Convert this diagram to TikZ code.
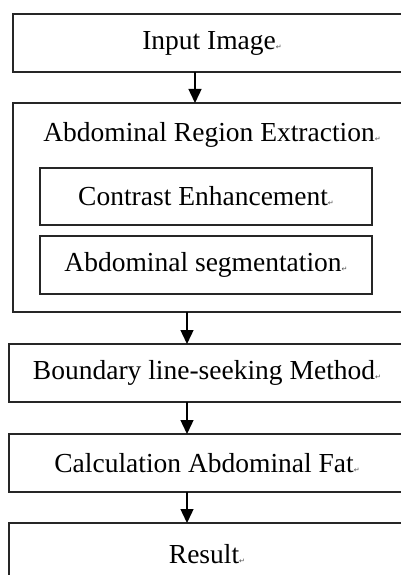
\documentclass[tikz,border=0pt]{standalone}
\usepackage{fontspec}
\setmainfont{Liberation Serif}
\newfontfamily\markfont{DejaVu Sans}
\usetikzlibrary{arrows.meta}
\newcommand{\pmark}{{\markfont\fontsize{7}{7}\selectfont\textcolor{black!70}{↵}}}
\begin{document}
\begin{tikzpicture}[x=1pt,y=-1pt,
  stepbox/.style={draw=black!85,line width=1.5pt,inner sep=0pt,outer sep=0pt,anchor=north west,font=\fontsize{27.5}{33}\selectfont},
  arr/.style={-{Triangle[length=14pt,width=13pt]},line width=1.4pt}]
\useasboundingbox (0,0) rectangle (401,575);
\clip (0,0) rectangle (401,575);
% main steps
\node[stepbox,minimum width=398pt,minimum height=58pt] (input) at (13,14) {Input Image\pmark};
\node[stepbox,minimum width=398pt,minimum height=209pt] (extract) at (13,103) {};
\node[font=\fontsize{27.5}{33}\selectfont,anchor=base] (extractlbl) at (212,142) {Abdominal Region Extraction\pmark};
\node[stepbox,minimum width=332pt,minimum height=57pt] (contrast) at (40,168) {Contrast Enhancement\pmark};
\node[stepbox,minimum width=332pt,minimum height=58pt] (segment) at (40,236) {Abdominal segmentation\pmark};
\node[stepbox,minimum width=396pt,minimum height=58pt] (boundary) at (9,344) {Boundary line-seeking Method\pmark};
\node[stepbox,minimum width=396pt,minimum height=58pt] (calc) at (9,434) {Calculation Abdominal Fat\pmark};
\node[stepbox,minimum width=396pt,minimum height=62pt] (result) at (9,523) {Result\pmark};
% arrows
\coordinate (colA) at (195,0);
\coordinate (colB) at (187,0);
\draw[arr] (input.south -| colA) -- (extract.north -| colA);
\draw[arr] (extract.south -| colB) -- (boundary.north -| colB);
\draw[arr] (boundary.south -| colB) -- (calc.north -| colB);
\draw[arr] (calc.south -| colB) -- (result.north -| colB);
\end{tikzpicture}
\end{document}
